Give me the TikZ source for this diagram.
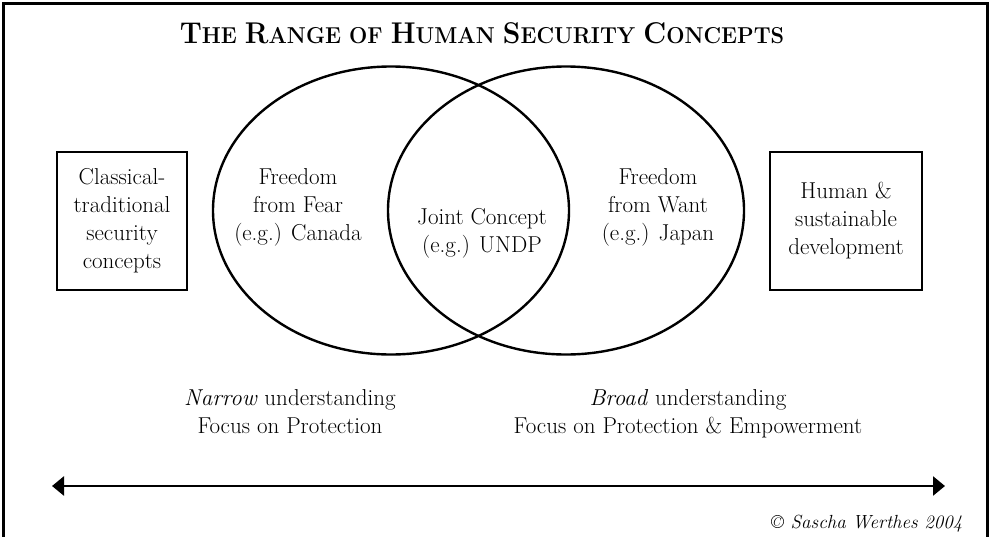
\documentclass[tikz,border=0pt]{standalone}
\usepackage{fontspec}
\usetikzlibrary{shapes.geometric,arrows.meta}

\newcommand\capsc[2]{{\fontsize{30}{30}\selectfont #1}{\fontsize{23}{23}\selectfont #2}}

\begin{document}
\begin{tikzpicture}[x=1pt,y=-1pt]

        \useasboundingbox (0,0) rectangle (992,536);
        \draw[line width=3pt] (3,545) -- (3,3) -- (987,3) -- (987,545);

        \node[anchor=base, font=\fontsize{23}{23}\selectfont\bfseries] (title) at (482,43) {\scalebox{0.94}[1]{\capsc{T}{HE} \capsc{R}{ANGE} OF \capsc{H}{UMAN} \capsc{S}{ECURITY} \capsc{C}{ONCEPTS}}};

        \begin{scope}[every node/.style={ellipse, draw, line width=2.4pt, minimum width=356pt, minimum height=288pt}]
          \node (fear) at (391,210.5) {};
          \node (want) at (566,210.5) {};
        \end{scope}

        \begin{scope}[every node/.style={draw, line width=2.8pt, minimum height=138pt, inner sep=0pt, align=center, font=\fontsize{23}{28}\selectfont}]
          \node[minimum width=130pt] (classic) at (122,221) {Classical-\\traditional\\security\\concepts};
          \node[minimum width=152pt] (develop) at (846,221) {Human \&\\sustainable\\development};
        \end{scope}

        % anchor=base sits on the last line
        \begin{scope}[every node/.style={anchor=base, align=center, font=\fontsize{23}{28}\selectfont}]
          \node (feartxt) at (298,240) {Freedom\\from Fear\\(e.g.) Canada};
          \node (jointtxt) at (482,252) {Joint Concept\\(e.g.) UNDP};
          \node (wanttxt) at (658,240) {Freedom\\from Want\\(e.g.) Japan};
          \node (narrowtxt) at (290,433) {\textit{Narrow} understanding\\Focus on Protection};
          \node (broadtxt) at (688,433) {\textit{Broad} understanding\\Focus on Protection \& Empowerment};
        \end{scope}

        \coordinate (narrowend) at (52,486);
        \coordinate (broadend) at (945,486);
        \draw[{Triangle[length=12pt,width=19pt]}-{Triangle[length=12pt,width=19pt]}, line width=2.6pt] (narrowend) -- (broadend);

        \node[anchor=base east, font=\fontsize{19}{19}\selectfont\itshape] (copy) at (966,528) {\textcopyright{} Sascha Werthes 2004};

\end{tikzpicture}
\end{document}
